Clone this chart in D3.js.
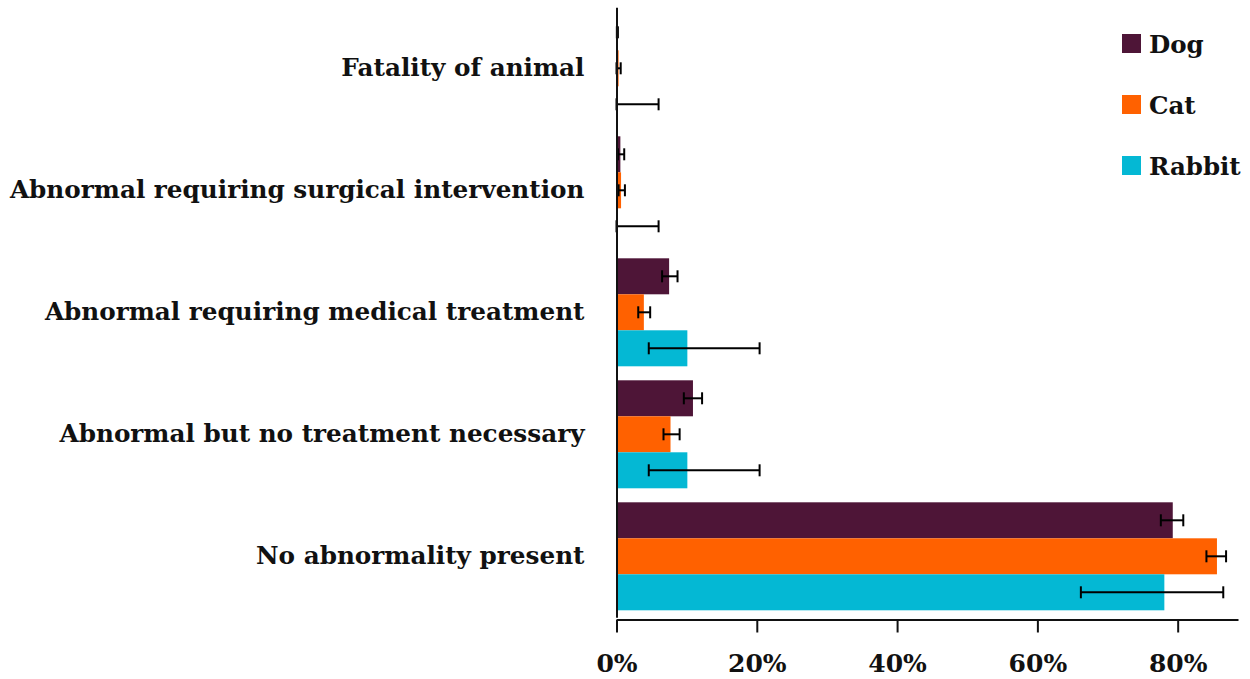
<!DOCTYPE html>
<html>
<head>
<meta charset="utf-8">
<script src="https://cdn.jsdelivr.net/npm/d3@7"></script>
<style>
  html, body { margin: 0; padding: 0; background: #fff; }
  svg { display: block; }
  text { font-family: "DejaVu Serif", serif; font-weight: bold; fill: #111; }
</style>
</head>
<body>
<svg id="chart" width="1250" height="679"></svg>
<script>
// Outcome categories, top to bottom
const categories = [
  "Fatality of animal",
  "Abnormal requiring surgical intervention",
  "Abnormal requiring medical treatment",
  "Abnormal but no treatment necessary",
  "No abnormality present"
];
const species = ["Dog", "Cat", "Rabbit"];
const colors = ["#4e1537", "#ff6100", "#04b8d4"];

// Percentages per outcome (same order as categories)
const dogValues    = [0.1, 0.55, 7.5, 10.9, 79.3];
const catValues    = [0.3, 0.65, 3.9, 7.7, 85.6];
const rabbitValues = [0.0, 0.0, 10.1, 10.1, 78.1];

// 95% interval bounds
const dogLow     = [0.05, 0.2, 6.5, 9.6, 77.6];
const dogHigh    = [0.2, 1.1, 8.7, 12.2, 80.8];
const catLow     = [0.0, 0.3, 3.1, 6.7, 84.1];
const catHigh    = [0.6, 1.2, 4.8, 9.0, 86.9];
const rabbitLow  = [0.0, 0.0, 4.6, 4.6, 66.2];
const rabbitHigh = [6.0, 6.0, 20.4, 20.4, 86.5];

const xTicks = [0, 20, 40, 60, 80];

const valuesBySpecies = [dogValues, catValues, rabbitValues];
const lowBySpecies = [dogLow, catLow, rabbitLow];
const highBySpecies = [dogHigh, catHigh, rabbitHigh];

const rows = [];
categories.forEach((c, ci) => {
  species.forEach((s, si) => {
    rows.push({
      category: c, species: s,
      value: valuesBySpecies[si][ci],
      low: lowBySpecies[si][ci],
      high: highBySpecies[si][ci],
      color: colors[si]
    });
  });
});

const svg = d3.select("#chart");

const x = d3.scaleLinear().domain([0, 88.6]).range([616.5, 1238]);
const y = d3.scaleBand().domain(categories).range([7.3, 617.3])
  .paddingInner(0.1148).paddingOuter(0.0574);
const ySub = d3.scaleBand().domain(species).range([0, y.bandwidth()]);

// Bars
const bars = svg.append("g");
bars.selectAll("rect").data(rows).join("rect")
  .attr("x", x(0))
  .attr("y", d => y(d.category) + ySub(d.species))
  .attr("width", d => x(d.value) - x(0))
  .attr("height", ySub.bandwidth())
  .attr("fill", d => d.color);

// Error bars
const err = svg.append("g").attr("stroke", "#000").attr("stroke-width", 2);
const cap = 6;
rows.forEach(d => {
  const cy = y(d.category) + ySub(d.species) + ySub.bandwidth() / 2;
  const g = err.append("g");
  g.append("line").attr("x1", x(d.low)).attr("x2", x(d.high)).attr("y1", cy).attr("y2", cy);
  g.append("line").attr("x1", x(d.low)).attr("x2", x(d.low)).attr("y1", cy - cap).attr("y2", cy + cap);
  g.append("line").attr("x1", x(d.high)).attr("x2", x(d.high)).attr("y1", cy - cap).attr("y2", cy + cap);
});

// Left axis with category labels
const yAxis = svg.append("g")
  .attr("transform", `translate(${x(0)},0)`)
  .call(d3.axisLeft(y).tickSize(0).tickPadding(32).tickSizeOuter(0));
yAxis.select(".domain").attr("stroke", "#111").attr("stroke-width", 2);
yAxis.selectAll("text").attr("font-size", 24.7).attr("font-family", null).attr("fill", "#111");

// Bottom axis
const xAxis = svg.append("g")
  .attr("transform", `translate(0,619.5)`)
  .call(d3.axisBottom(x).tickValues(xTicks).tickFormat(d => d + "%")
    .tickSize(13).tickSizeOuter(0).tickPadding(22));
xAxis.select(".domain").attr("stroke", "#111").attr("stroke-width", 2);
xAxis.selectAll(".tick line").attr("stroke", "#111").attr("stroke-width", 2);
xAxis.selectAll("text").attr("font-size", 25).attr("font-family", null).attr("fill", "#111");

// Legend
const legend = svg.append("g").attr("transform", "translate(1122,34)");
species.forEach((s, i) => {
  const g = legend.append("g").attr("transform", `translate(0,${i * 61})`);
  g.append("rect").attr("width", 19).attr("height", 19).attr("fill", colors[i]);
  g.append("text").attr("x", 27).attr("y", 10).attr("dy", "0.35em")
    .attr("font-size", 24.5).text(s);
});
</script>
</body>
</html>
